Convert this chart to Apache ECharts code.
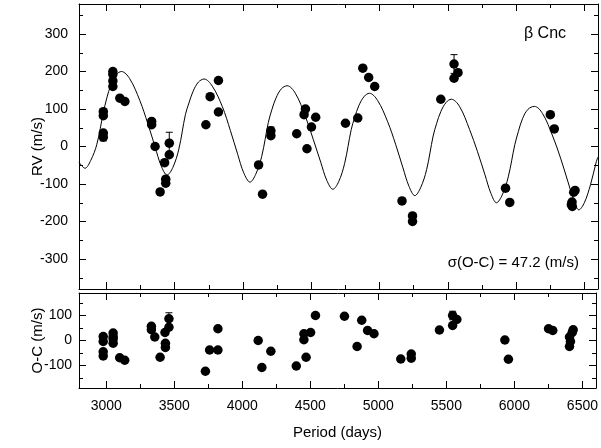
<!DOCTYPE html>
<html>
<head>
<meta charset="utf-8">
<script src="https://cdn.jsdelivr.net/npm/echarts@6/dist/echarts.min.js"></script>
<style>
html,body{margin:0;padding:0;background:#fff;}
#chart{width:601px;height:448px;}
</style>
</head>
<body>
<div id="chart"></div>
<script>
// ---- Data ----
// Model curve (RV, m/s)
var curveDays = [2800,2844,2886,2930,2978,3004,3034,3074,3111,3171,3245,3303,3357,3401,3445,3487,3531,3579,3605,3635,3675,3716,3776,3850,3908,3962,4006,4052,4094,4138,4186,4212,4242,4282,4324,4384,4458,4516,4570,4614,4659,4701,4745,4793,4819,4849,4889,4926,4986,5060,5118,5172,5216,5259,5301,5345,5393,5419,5449,5489,5526,5586,5660,5718,5772,5816,5857,5899,5943,5991,6017,6047,6087,6134,6194,6268,6326,6380,6424,6460,6500,6545,6588,6600];
var curveRV   = [-42,-58,-37,5,90,130,164,192,200,181,123,62,-1,-51,-76,-56,-7,85,116,147,172,180,161,106,43,-21,-70,-95,-74,-26,64,98,129,154,162,142,80,18,-42,-90,-114,-94,-45,45,78,109,134,142,123,66,6,-57,-106,-131,-110,-62,28,62,93,118,126,107,45,-14,-75,-125,-150,-129,-81,5,40,74,99,107,88,28,-31,-94,-144,-169,-150,-102,-40,-28];

// Observed RV
var rvDays = [2978,2978,2978,2978,3048,3048,3048,3048,3099,3136,3332,3332,3357,3461,3461,3427,3435,3435,3394,3729,3760,3821,3821,4115,4144,4205,4205,4394,4458,4448,4533,4502,4469,4751,4841,4878,4921,4965,5165,5242,5242,5449,5546,5546,5575,5923,5954,6251,6280,6432,6422,6410,6405,6412];
var rvValues = [93,82,36,25,200,192,175,160,129,120,67,58,0,9,-22,-43,-87,-98,-121,58,133,176,92,-49,-127,42,29,34,100,85,78,52,-6,62,76,209,184,160,-145,-185,-200,126,220,182,197,-111,-149,85,47,-117,-122,-148,-155,-160];

// RV error bars (day, value, half-length)
var rvErrDays = [2978,3461,4205,5546];
var rvErrValues = [25,9,42,220];
var rvErrSizes = [10,29,10,25];

// O-C residuals
var ocDays = [2978,2978,2978,2978,3051,3051,3051,3051,3099,3136,3332,3332,3357,3396,3432,3435,3435,3461,3461,3729,3760,3821,3821,4117,4144,4210,4397,4469,4453,4453,4502,4538,4751,4878,4844,4921,4968,5165,5242,5242,5449,5546,5546,5577,5930,5956,6251,6282,6432,6425,6405,6412,6405];
var ocValues = [16,-4,-45,-62,30,15,6,-11,-69,-79,57,43,14,-67,32,-11,-28,87,53,-123,-38,-38,47,0,-108,-43,-102,-67,27,3,32,100,97,81,-24,40,27,-74,-54,-71,42,100,60,84,2,-75,47,40,43,32,14,-4,-24];

// O-C error bars
var ocErrDays = [3461,5546];
var ocErrValues = [87,100];
var ocErrSizes = [24,17];

// Axis settings
var xMin = 2800, xMax = 6600;
var rvMin = -380, rvMax = 380;
var ocMin = -190, ocMax = 190;

var labelText = '\u03b2 Cnc';
var sigmaText = '\u03c3(O-C) = 47.2 (m/s)';

// ---- Build ----
function zip2(a, b) { return a.map(function (v, i) { return [v, b[i]]; }); }
function zip3(a, b, c) { return a.map(function (v, i) { return [v, b[i], c[i]]; }); }

var FONT = 'Liberation Sans, Arial, Helvetica, sans-serif';
var BLACK = '#000';

function errRender(params, api) {
  var x = api.value(0), y = api.value(1), e = api.value(2);
  var top = api.coord([x, y + e]);
  var bot = api.coord([x, y - e]);
  var hw = 3.5;
  var st = { stroke: BLACK, lineWidth: 1 };
  return {
    type: 'group',
    children: [
      { type: 'line', shape: { x1: top[0], y1: top[1], x2: bot[0], y2: bot[1] }, style: st },
      { type: 'line', shape: { x1: top[0] - hw, y1: top[1], x2: top[0] + hw, y2: top[1] }, style: st },
      { type: 'line', shape: { x1: bot[0] - hw, y1: bot[1], x2: bot[0] + hw, y2: bot[1] }, style: st }
    ]
  };
}

function xAx(grid, pos, showLabels, name) {
  return {
    type: 'value', gridIndex: grid, position: pos,
    min: xMin, max: xMax, splitNumber: 7,
    axisLine: { show: true, onZero: false, lineStyle: { color: BLACK, width: 1 } },
    axisTick: { show: true, inside: true, length: 7, lineStyle: { color: BLACK, width: 1 } },
    minorTick: { show: true, splitNumber: 2, length: 4, lineStyle: { color: BLACK, width: 1 } },
    splitLine: { show: false },
    axisLabel: {
      show: showLabels, color: BLACK, fontFamily: FONT, fontSize: 14, margin: 11,
      formatter: function (v) { return (v % 500 === 0) ? String(v) : ''; }
    },
    name: name || '', nameLocation: 'middle', nameGap: 37, nameMoveOverlap: false,
    nameTextStyle: { color: BLACK, fontFamily: FONT, fontSize: 15 }
  };
}

function yAx(grid, pos, min, max, split, showLabels, name, margin, nameGap) {
  return {
    type: 'value', gridIndex: grid, position: pos,
    min: min, max: max, splitNumber: split,
    axisLine: { show: true, onZero: false, lineStyle: { color: BLACK, width: 1 } },
    axisTick: { show: true, inside: true, length: 7, lineStyle: { color: BLACK, width: 1 } },
    minorTick: { show: true, splitNumber: 2, length: 4, lineStyle: { color: BLACK, width: 1 } },
    splitLine: { show: false },
    axisLabel: {
      show: showLabels, color: BLACK, fontFamily: FONT, fontSize: 14, margin: margin || 8,
      formatter: function (v) { return (v % 100 === 0) ? String(v) : ''; }
    },
    name: name || '', nameLocation: 'middle', nameGap: nameGap || 30, nameMoveOverlap: false,
    nameTextStyle: { color: BLACK, fontFamily: FONT, fontSize: 15 }
  };
}

var chart = echarts.init(document.getElementById('chart'), null, { renderer: 'canvas' });
chart.setOption({
  backgroundColor: '#fff',
  animation: false,
  grid: [
    { left: 79, top: 4, width: 519, height: 285, containLabel: false },
    { left: 79, top: 293, width: 519, height: 95, containLabel: false }
  ],
  xAxis: [
    xAx(0, 'bottom', false),
    xAx(0, 'top', false),
    xAx(1, 'bottom', true, 'Period (days)'),
    xAx(1, 'top', false)
  ],
  yAxis: [
    yAx(0, 'left', rvMin, rvMax, 6, true, 'RV (m/s)', 11, 34),
    yAx(0, 'right', rvMin, rvMax, 6, false),
    yAx(1, 'left', ocMin, ocMax, 3, true, 'O-C (m/s)', 7, 34),
    yAx(1, 'right', ocMin, ocMax, 3, false)
  ],
  graphic: [
    { type: 'text', x: 545, y: 34, style: { text: labelText, font: '16px ' + FONT, fill: BLACK, align: 'center', verticalAlign: 'middle' } },
    { type: 'text', x: 579, y: 263, style: { text: sigmaText, font: '15px ' + FONT, fill: BLACK, align: 'right', verticalAlign: 'middle' } }
  ],
  series: [
    {
      type: 'line', xAxisIndex: 0, yAxisIndex: 0,
      data: zip2(curveDays, curveRV),
      smooth: 0.35, showSymbol: false, symbol: 'none',
      lineStyle: { color: BLACK, width: 1, opacity: 1 }, clip: true, silent: true
    },
    {
      type: 'custom', xAxisIndex: 0, yAxisIndex: 0,
      data: zip3(rvErrDays, rvErrValues, rvErrSizes), renderItem: errRender, silent: true
    },
    {
      type: 'scatter', xAxisIndex: 0, yAxisIndex: 0,
      data: zip2(rvDays, rvValues), symbolSize: 9.5,
      itemStyle: { color: BLACK, opacity: 1 }, silent: true
    },
    {
      type: 'custom', xAxisIndex: 2, yAxisIndex: 2,
      data: zip3(ocErrDays, ocErrValues, ocErrSizes), renderItem: errRender, silent: true
    },
    {
      type: 'scatter', xAxisIndex: 2, yAxisIndex: 2,
      data: zip2(ocDays, ocValues), symbolSize: 9.5,
      itemStyle: { color: BLACK, opacity: 1 }, silent: true
    }
  ]
});
</script>
</body>
</html>
